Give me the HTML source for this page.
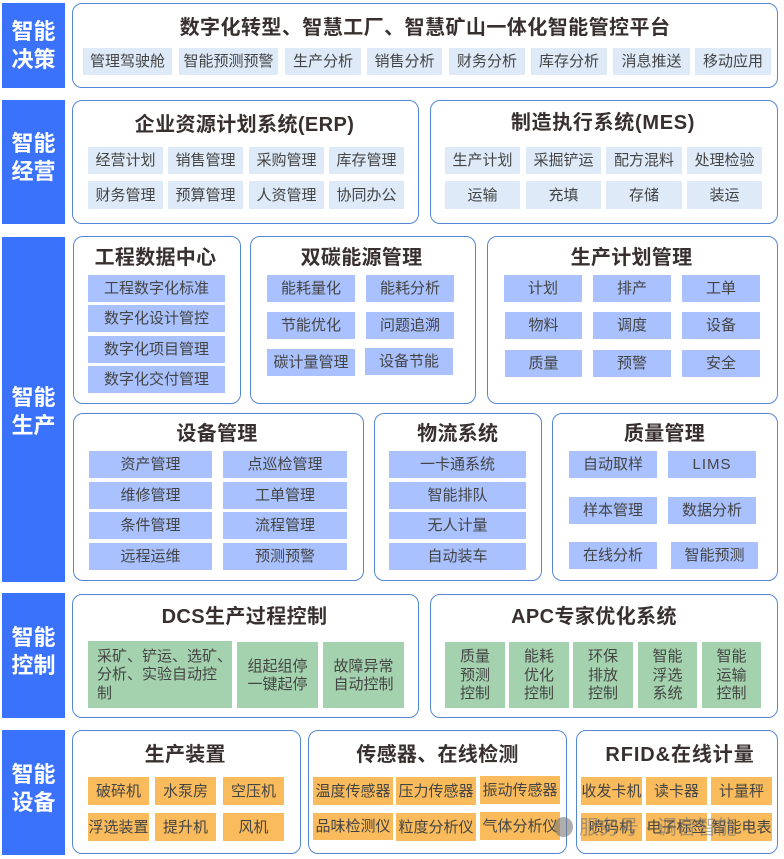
<!DOCTYPE html>
<html lang="zh">
<head>
<meta charset="utf-8">
<title>智能管控平台架构</title>
<style>
html,body{margin:0;padding:0;background:#fff;}
body{width:784px;height:859px;position:relative;overflow:hidden;font-family:"Liberation Sans","Noto Sans CJK SC",sans-serif;color:#3d3a3a;}
#w{position:absolute;left:0;top:0;width:784px;height:859px;filter:blur(.35px);}
#w div{position:absolute;box-sizing:border-box;}
.s{left:2px;width:63px;background:#3b72fb;color:#fff;font-weight:700;font-size:22px;line-height:28px;display:flex;align-items:center;justify-content:center;text-align:center;}
.p{border:1.6px solid #5588d2;border-radius:10px;background:#fff;}
.t{font-weight:700;font-size:20px;line-height:26px;margin-top:1px;letter-spacing:.3px;text-align:center;color:#37302f;white-space:nowrap;}
.c{display:flex;align-items:center;justify-content:center;text-align:center;font-size:15px;line-height:18.5px;padding-top:2px;white-space:nowrap;color:#444;}
.a{background:#deeaf8;}
.b{background:#a9c1fe;}
.g{background:#a4d2ae;}
.o{background:#f9bb5b;}
</style>
</head>
<body>
<div id="w">
<div class="s" style="top:3px;height:85px">智能<br>决策</div>
<div class="s" style="top:100px;height:124px;padding-bottom:8px">智能<br>经营</div>
<div class="s" style="top:237px;height:345px;padding-top:4px">智能<br>生产</div>
<div class="s" style="top:593px;height:125px;padding-bottom:8px">智能<br>控制</div>
<div class="s" style="top:730px;height:125px;padding-bottom:8px">智能<br>设备</div>

<div class="p" style="left:72px;top:3px;width:706px;height:85px"></div>
<div class="t" style="left:72px;top:14px;width:706px;letter-spacing:.45px">数字化转型、智慧工厂、智慧矿山一体化智能管控平台</div>
<div class="c a" style="left:83px;top:48px;width:89px;height:27px">管理驾驶舱</div>
<div class="c a" style="left:179px;top:48px;width:99px;height:27px">智能预测预警</div>
<div class="c a" style="left:285px;top:48px;width:76px;height:27px">生产分析</div>
<div class="c a" style="left:367px;top:48px;width:75px;height:27px">销售分析</div>
<div class="c a" style="left:449px;top:48px;width:76px;height:27px">财务分析</div>
<div class="c a" style="left:531px;top:48px;width:76px;height:27px">库存分析</div>
<div class="c a" style="left:613px;top:48px;width:77px;height:27px">消息推送</div>
<div class="c a" style="left:695px;top:48px;width:76px;height:27px">移动应用</div>

<div class="p" style="left:72px;top:100px;width:347px;height:124px"></div>
<div class="t" style="left:71px;top:111px;width:347px;letter-spacing:.4px">企业资源计划系统(ERP)</div>
<div class="c a" style="left:88px;top:147px;width:75px;height:27px">经营计划</div>
<div class="c a" style="left:168px;top:147px;width:75px;height:27px">销售管理</div>
<div class="c a" style="left:249px;top:147px;width:75px;height:27px">采购管理</div>
<div class="c a" style="left:329px;top:147px;width:75px;height:27px">库存管理</div>
<div class="c a" style="left:88px;top:181px;width:75px;height:28px">财务管理</div>
<div class="c a" style="left:168px;top:181px;width:75px;height:28px">预算管理</div>
<div class="c a" style="left:249px;top:181px;width:75px;height:28px">人资管理</div>
<div class="c a" style="left:329px;top:181px;width:75px;height:28px">协同办公</div>

<div class="p" style="left:430px;top:100px;width:348px;height:124px"></div>
<div class="t" style="left:429px;top:109px;width:348px;letter-spacing:.7px">制造执行系统(MES)</div>
<div class="c a" style="left:445px;top:147px;width:75px;height:27px">生产计划</div>
<div class="c a" style="left:526px;top:147px;width:75px;height:27px">采掘铲运</div>
<div class="c a" style="left:606px;top:147px;width:76px;height:27px">配方混料</div>
<div class="c a" style="left:687px;top:147px;width:75px;height:27px">处理检验</div>
<div class="c a" style="left:445px;top:181px;width:75px;height:28px">运输</div>
<div class="c a" style="left:526px;top:181px;width:75px;height:28px">充填</div>
<div class="c a" style="left:606px;top:181px;width:76px;height:28px">存储</div>
<div class="c a" style="left:687px;top:181px;width:75px;height:28px">装运</div>

<div class="p" style="left:72.5px;top:236px;width:168px;height:168px"></div>
<div class="t" style="left:71.5px;top:244px;width:168px">工程数据中心</div>
<div class="c b" style="left:88px;top:275px;width:137px;height:27px">工程数字化标准</div>
<div class="c b" style="left:88px;top:305px;width:137px;height:27px">数字化设计管控</div>
<div class="c b" style="left:88px;top:336px;width:137px;height:27px">数字化项目管理</div>
<div class="c b" style="left:88px;top:366px;width:137px;height:27px">数字化交付管理</div>

<div class="p" style="left:249.5px;top:236px;width:226px;height:168px"></div>
<div class="t" style="left:248.5px;top:244px;width:226px">双碳能源管理</div>
<div class="c b" style="left:267px;top:275px;width:88px;height:27px">能耗量化</div>
<div class="c b" style="left:366px;top:275px;width:88px;height:27px">能耗分析</div>
<div class="c b" style="left:267px;top:312px;width:88px;height:27px">节能优化</div>
<div class="c b" style="left:366px;top:312px;width:88px;height:27px">问题追溯</div>
<div class="c b" style="left:267px;top:349px;width:88px;height:27px">碳计量管理</div>
<div class="c b" style="left:365px;top:348px;width:88px;height:27px">设备节能</div>

<div class="p" style="left:486.5px;top:236px;width:291px;height:168px"></div>
<div class="t" style="left:486px;top:244px;width:291px">生产计划管理</div>
<div class="c b" style="left:504px;top:275px;width:78px;height:27px">计划</div>
<div class="c b" style="left:593px;top:275px;width:78px;height:27px">排产</div>
<div class="c b" style="left:682px;top:275px;width:78px;height:27px">工单</div>
<div class="c b" style="left:505px;top:312px;width:77px;height:27px">物料</div>
<div class="c b" style="left:593px;top:312px;width:78px;height:27px">调度</div>
<div class="c b" style="left:682px;top:312px;width:78px;height:27px">设备</div>
<div class="c b" style="left:505px;top:350px;width:77px;height:27px">质量</div>
<div class="c b" style="left:593px;top:350px;width:78px;height:27px">预警</div>
<div class="c b" style="left:682px;top:350px;width:78px;height:27px">安全</div>

<div class="p" style="left:72.5px;top:413px;width:291px;height:168px"></div>
<div class="t" style="left:71.5px;top:420px;width:291px">设备管理</div>
<div class="c b" style="left:89px;top:451px;width:123px;height:27px">资产管理</div>
<div class="c b" style="left:223px;top:451px;width:124px;height:27px">点巡检管理</div>
<div class="c b" style="left:89px;top:482px;width:123px;height:27px">维修管理</div>
<div class="c b" style="left:223px;top:482px;width:124px;height:27px">工单管理</div>
<div class="c b" style="left:89px;top:512px;width:123px;height:27px">条件管理</div>
<div class="c b" style="left:223px;top:512px;width:124px;height:27px">流程管理</div>
<div class="c b" style="left:89px;top:543px;width:123px;height:27px">远程运维</div>
<div class="c b" style="left:223px;top:543px;width:124px;height:27px">预测预警</div>

<div class="p" style="left:374px;top:413px;width:167.5px;height:168px"></div>
<div class="t" style="left:374px;top:420px;width:167.5px">物流系统</div>
<div class="c b" style="left:389px;top:451px;width:137px;height:27px">一卡通系统</div>
<div class="c b" style="left:389px;top:482px;width:137px;height:27px">智能排队</div>
<div class="c b" style="left:389px;top:512px;width:137px;height:27px">无人计量</div>
<div class="c b" style="left:389px;top:543px;width:137px;height:27px">自动装车</div>

<div class="p" style="left:551.5px;top:413px;width:226px;height:168px"></div>
<div class="t" style="left:551.5px;top:420px;width:226px">质量管理</div>
<div class="c b" style="left:569px;top:451px;width:88px;height:27px">自动取样</div>
<div class="c b" style="left:668px;top:451px;width:88px;height:27px;letter-spacing:1px">LIMS</div>
<div class="c b" style="left:569px;top:497px;width:88px;height:27px">样本管理</div>
<div class="c b" style="left:668px;top:497px;width:88px;height:27px">数据分析</div>
<div class="c b" style="left:569px;top:542px;width:88px;height:27px">在线分析</div>
<div class="c b" style="left:671px;top:542px;width:87px;height:27px">智能预测</div>

<div class="p" style="left:72px;top:594px;width:347px;height:124px"></div>
<div class="t" style="left:71px;top:603px;width:347px;letter-spacing:.4px">DCS生产过程控制</div>
<div class="c g" style="left:88px;top:641px;width:144px;height:67px;padding:2px 0 0 9px;justify-content:flex-start;text-align:left">采矿、铲运、选矿、<br>分析、实验自动控<br>制</div>
<div class="c g" style="left:237px;top:642px;width:81px;height:66px">组起组停<br>一键起停</div>
<div class="c g" style="left:323px;top:642px;width:81px;height:66px">故障异常<br>自动控制</div>

<div class="p" style="left:430px;top:594px;width:348px;height:124px"></div>
<div class="t" style="left:420px;top:603px;width:348px;letter-spacing:.4px">APC专家优化系统</div>
<div class="c g" style="left:445px;top:642px;width:60px;height:66px">质量<br>预测<br>控制</div>
<div class="c g" style="left:509px;top:642px;width:60px;height:66px">能耗<br>优化<br>控制</div>
<div class="c g" style="left:573px;top:642px;width:60px;height:66px">环保<br>排放<br>控制</div>
<div class="c g" style="left:638px;top:642px;width:59px;height:66px">智能<br>浮选<br>系统</div>
<div class="c g" style="left:702px;top:642px;width:59px;height:66px">智能<br>运输<br>控制</div>

<div class="p" style="left:72px;top:730px;width:228.5px;height:124px"></div>
<div class="t" style="left:71px;top:741px;width:228.5px">生产装置</div>
<div class="c o" style="left:88px;top:777px;width:61px;height:28px">破碎机</div>
<div class="c o" style="left:155px;top:777px;width:61px;height:28px">水泵房</div>
<div class="c o" style="left:223px;top:777px;width:61px;height:28px">空压机</div>
<div class="c o" style="left:88px;top:813px;width:61px;height:28px">浮选装置</div>
<div class="c o" style="left:155px;top:813px;width:61px;height:28px">提升机</div>
<div class="c o" style="left:223px;top:813px;width:61px;height:28px">风机</div>

<div class="p" style="left:308px;top:730px;width:259px;height:124px"></div>
<div class="t" style="left:308px;top:741px;width:259px">传感器、在线检测</div>
<div class="c o" style="left:313px;top:777px;width:80px;height:28px">温度传感器</div>
<div class="c o" style="left:396px;top:777px;width:80px;height:28px">压力传感器</div>
<div class="c o" style="left:480px;top:776px;width:80px;height:28px">振动传感器</div>
<div class="c o" style="left:313px;top:813px;width:80px;height:27px">品味检测仪</div>
<div class="c o" style="left:396px;top:813px;width:80px;height:28px">粒度分析仪</div>
<div class="c o" style="left:480px;top:812px;width:80px;height:28px">气体分析仪</div>

<div class="p" style="left:575.5px;top:730px;width:202px;height:124px"></div>
<div class="t" style="left:579px;top:741px;width:202px;letter-spacing:.9px">RFID&amp;在线计量</div>
<div class="c o" style="left:581px;top:777px;width:61px;height:28px">收发卡机</div>
<div class="c o" style="left:646px;top:777px;width:61px;height:28px">读卡器</div>
<div class="c o" style="left:711px;top:777px;width:61px;height:28px">计量秤</div>
<div class="c o" style="left:581px;top:813px;width:61px;height:28px">喷码机</div>
<div class="c o" style="left:646px;top:813px;width:61px;height:28px">电子标签</div>
<div class="c o" style="left:711px;top:813px;width:61px;height:28px">智能电表</div>

<div style="left:554px;top:817px;width:19px;height:20px;border-radius:50%;background:rgba(120,120,120,.6)"></div>
<div style="left:579px;top:815px;width:200px;height:26px;font-size:20px;line-height:26px;color:rgba(110,110,110,.55);white-space:nowrap">服务号 · 调音智能</div>
</div>
</body>
</html>
